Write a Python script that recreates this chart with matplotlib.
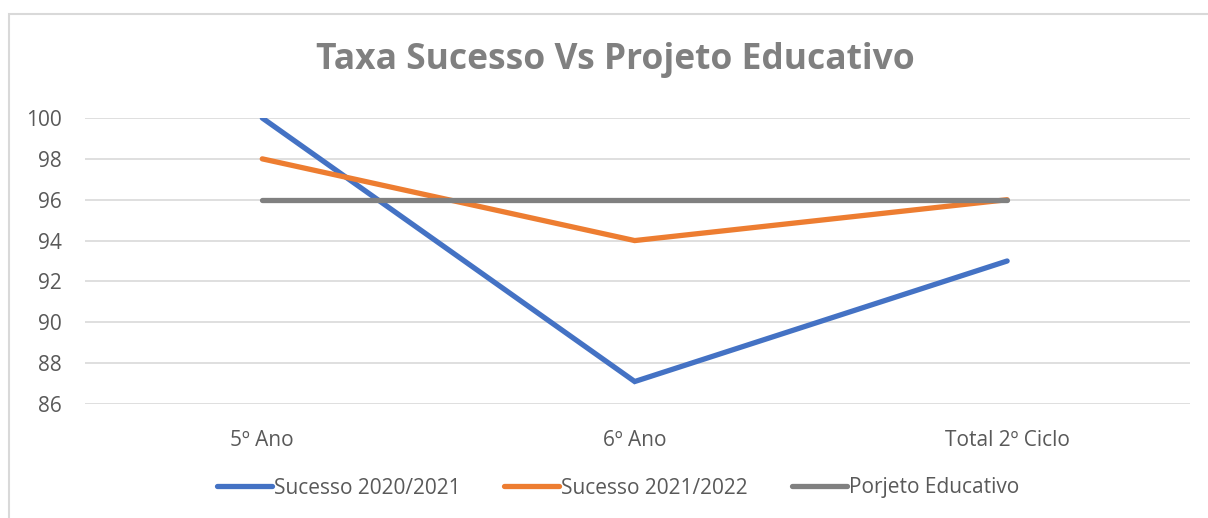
import matplotlib
matplotlib.use("Agg")
import matplotlib.pyplot as plt
from matplotlib.patches import Rectangle

categories = ["5º Ano", "6º Ano", "Total 2º Ciclo"]
sucesso_2020_2021 = [100, 87.1, 93]
sucesso_2021_2022 = [98, 94, 96]
projeto_educativo = [96, 96, 96]
series_names = ["Sucesso 2020/2021", "Sucesso 2021/2022", "Porjeto Educativo"]
yticks = [86, 88, 90, 92, 94, 96, 98, 100]

colors = ["#4472C4", "#ED7D31", "#808080"]
plt.rcParams['font.family'] = ['Open Sans', 'DejaVu Sans']

W, H = 1208, 518
fig = plt.figure(figsize=(W / 100, H / 100), dpi=100)
fig.patch.set_facecolor("white")

# chart border (cropped Excel chart area)
fig.add_artist(Rectangle((9 / W, -0.1), 1.2, (H - 14) / H + 0.1,
                         transform=fig.transFigure, fill=False,
                         edgecolor="#D9D9D9", linewidth=1.5))

left, right, top, bottom = 85, 1190, 118, 404
ax = fig.add_axes([left / W, 1 - bottom / H, (right - left) / W, (bottom - top) / H])
x = list(range(len(categories)))
for vals, c, name in zip([sucesso_2020_2021, sucesso_2021_2022, projeto_educativo], colors, series_names):
    ax.plot(x, vals, color=c, linewidth=3.8, solid_capstyle="round",
            solid_joinstyle="miter", label=name)

ax.set_xlim(-0.476, 2.491)
ax.set_ylim(86, 100)
ax.set_yticks(yticks)
ax.set_xticks(x)
ax.set_xticklabels(categories)
ax.grid(axis="y", color="#D9D9D9", linewidth=1.2)
ax.set_axisbelow(True)
for s in ax.spines.values():
    s.set_visible(False)
ax.tick_params(length=0, colors="#595959", labelsize=15)
ax.tick_params(axis="x", pad=19)
ax.tick_params(axis="y", pad=17)
for lab in ax.get_yticklabels() + ax.get_xticklabels():
    lab.set_color("#595959")

fig.text(615 / W, 1 - 60 / H, "Taxa Sucesso Vs Projeto Educativo",
         ha="center", va="center", fontsize=25.5, fontweight="bold", color="#808080")

leg = fig.legend(loc="center", bbox_to_anchor=(618 / W, 1 - 488 / H), ncol=3,
                 frameon=False, fontsize=15, handlelength=2.64, handletextpad=0.1,
                 columnspacing=2.1)
for t in leg.get_texts():
    t.set_color("#595959")

fig.savefig("out.png", dpi=100, facecolor="white")
